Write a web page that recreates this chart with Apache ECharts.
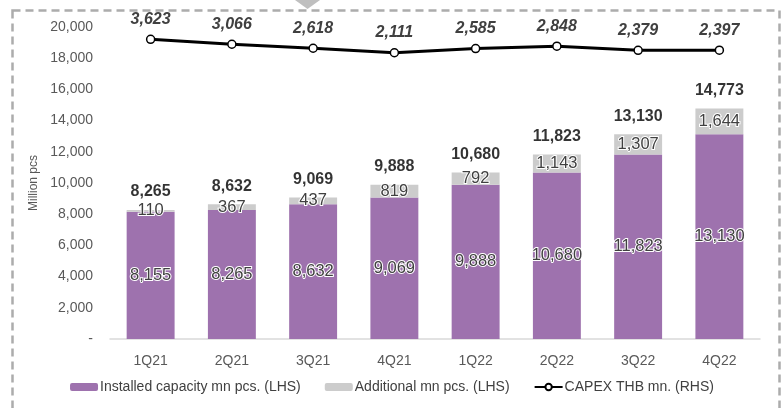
<!DOCTYPE html>
<html><head><meta charset="utf-8">
<script src="https://cdn.jsdelivr.net/npm/echarts@6/dist/echarts.min.js"></script>
<style>html,body{margin:0;padding:0;background:#fff}#c{width:784px;height:408px}</style>
</head><body><div id="c"></div>
<script>
var categories = ['1Q21','2Q21','3Q21','4Q21','1Q22','2Q22','3Q22','4Q22'];
var installed = [8155, 8265, 8632, 9069, 9888, 10680, 11823, 13130];
var additional = [110, 367, 437, 819, 792, 1143, 1307, 1644];
var totals = [8265, 8632, 9069, 9888, 10680, 11823, 13130, 14773];
var capex = [3623, 3066, 2618, 2111, 2585, 2848, 2379, 2397];
var yTicks = {min: 0, max: 20000, interval: 2000};

var FONT = "'Liberation Sans', Arial, sans-serif";
var fmt = function (v) { return Number(v).toLocaleString('en-US'); };
var chart = echarts.init(document.getElementById('c'));
chart.setOption({
  animation: false,
  backgroundColor: '#fff',
  textStyle: {fontFamily: FONT},
  graphic: [
    {type: 'rect', shape: {x: 12.5, y: 10.5, width: 767, height: 420},
     style: {fill: 'none', stroke: '#acacac', lineWidth: 2.5, lineDash: [8, 5]}, z: -1},
    {type: 'polygon', shape: {points: [[295, 0], [320, 0], [307.5, 9]]},
     style: {fill: '#bfbfbf'}}
  ],
  grid: {left: 110, right: 24, top: 27, bottom: 69},
  legend: {
    data: ['Installed capacity mn pcs. (LHS)', 'Additional mn pcs. (LHS)', 'CAPEX THB mn. (RHS)'],
    top: 375, left: 'center', itemWidth: 28, itemHeight: 8, itemGap: 24,
    textStyle: {fontSize: 14, color: '#404040', fontFamily: FONT, padding: [0, 0, 0, -3]}
  },
  xAxis: {
    type: 'category', data: categories,
    axisLine: {lineStyle: {color: '#d9d9d9', width: 1.5}},
    axisTick: {show: false},
    axisLabel: {fontSize: 14, color: '#595959', margin: 15, fontFamily: FONT}
  },
  yAxis: [
    {type: 'value', min: yTicks.min, max: yTicks.max, interval: yTicks.interval,
     name: 'Million pcs', nameLocation: 'middle', nameGap: 67, nameRotate: 90,
     nameTextStyle: {fontSize: 12, color: '#595959', fontFamily: FONT},
     splitLine: {show: false}, axisLine: {show: false}, axisTick: {show: false},
     axisLabel: {fontSize: 14, color: '#595959', margin: 17, fontFamily: FONT,
       formatter: function (v) { return v === 0 ? '-' : fmt(v); }}},
    {type: 'value', min: -30000, max: 5000, show: false, splitLine: {show: false}}
  ],
  series: [
    {name: 'Installed capacity mn pcs. (LHS)', type: 'bar', stack: 'cap', data: installed,
     barWidth: '59%', itemStyle: {color: '#9e72ae'},
     label: {show: true, position: 'inside', fontSize: 16.5, color: '#404040',
       textBorderColor: '#fff', textBorderWidth: 2, fontFamily: FONT,
       formatter: function (p) { return fmt(p.value); }}},
    {name: 'Additional mn pcs. (LHS)', type: 'bar', stack: 'cap', data: additional,
     itemStyle: {color: '#cccccc'},
     label: {show: true, position: 'inside', fontSize: 16.5, color: '#404040',
       textBorderColor: '#fff', textBorderWidth: 2, fontFamily: FONT,
       formatter: function (p) { return fmt(p.value); }}},
    {name: 'Total', type: 'scatter', data: totals, symbolSize: 0.1, silent: true,
     itemStyle: {color: 'rgba(0,0,0,0)'},
     label: {show: true, position: 'top', distance: 10, fontSize: 16, fontWeight: 'bold',
       color: '#000', fontFamily: FONT, formatter: function (p) { return fmt(p.value); }}},
    {name: 'CAPEX THB mn. (RHS)', type: 'line', yAxisIndex: 1, data: capex,
     symbol: 'circle', symbolSize: 8,
     lineStyle: {color: '#000', width: 3},
     itemStyle: {color: '#fff', borderColor: '#000', borderWidth: 1.5},
     label: {show: true, position: 'top', distance: 7, fontSize: 16, fontWeight: 'bold',
       fontStyle: 'italic', color: '#404040', fontFamily: FONT,
       formatter: function (p) { return fmt(p.value); }}}
  ]
});
</script></body></html>
